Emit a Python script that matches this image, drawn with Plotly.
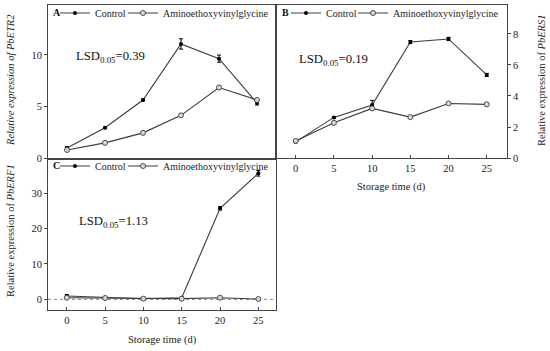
import plotly.graph_objects as go

days = [0, 5, 10, 15, 20, 25]
tick_vals_x = [0, 5, 10, 15, 20, 25]

# Panel A: PbETR2
a_control = [0.98, 2.93, 5.63, 11.07, 9.64, 5.34]
a_control_err = [0.1, 0.08, 0.1, 0.5, 0.35, 0.2]
a_avg = [0.78, 1.47, 2.44, 4.14, 6.84, 5.63]
a_avg_err = [0.05, 0.05, 0.05, 0.08, 0.1, 0.15]

# Panel B: PbERS1
b_control = [1.04, 2.62, 3.42, 7.48, 7.68, 5.36]
b_control_err = [0.05, 0.05, 0.3, 0.1, 0.1, 0.1]
b_avg = [1.10, 2.27, 3.20, 2.64, 3.52, 3.46]
b_avg_err = [0.05, 0.05, 0.1, 0.05, 0.05, 0.05]

# Panel C: PbERF1
c_control = [0.94, 0.56, 0.19, 0.47, 25.7, 35.6]
c_control_err = [0.4, 0.2, 0.1, 0.2, 0.5, 0.8]
c_avg = [0.47, 0.38, 0.20, 0.20, 0.47, 0.10]
c_avg_err = [0.1, 0.1, 0.05, 0.05, 0.1, 0.05]

series_names = ["Control", "Aminoethoxyvinylglycine"]
lsd_labels = ["LSD<sub>0.05</sub>=0.39", "LSD<sub>0.05</sub>=0.19", "LSD<sub>0.05</sub>=1.13"]

FONT = "Liberation Serif"
W, H = 550, 351
LINE = "#3a3a3a"
AX = "#444444"


def px(x):
    return x / W


def py(y):
    return 1 - y / H


fig = go.Figure()

panels = [
    ("x", "y", ("legend", "legend4"), a_control, a_control_err, a_avg, a_avg_err),
    ("x2", "y2", ("legend2", "legend5"), b_control, b_control_err, b_avg, b_avg_err),
    ("x3", "y3", ("legend3", "legend6"), c_control, c_control_err, c_avg, c_avg_err),
]

for xa, ya, lgs, ctl, ctl_e, avg, avg_e in panels:
    fig.add_trace(go.Scatter(
        x=days, y=ctl, name=series_names[0], mode="lines+markers",
        xaxis=xa, yaxis=ya, legend=lgs[0],
        line=dict(color=LINE, width=1.1),
        marker=dict(color="black", size=4, symbol="circle"),
        error_y=dict(type="data", array=ctl_e, color="black", thickness=1, width=2),
    ))
    fig.add_trace(go.Scatter(
        x=days, y=avg, name=series_names[1], mode="lines+markers",
        xaxis=xa, yaxis=ya, legend=lgs[1],
        line=dict(color=LINE, width=1.1),
        marker=dict(color="#d9d9d9", size=5, symbol="circle",
                    line=dict(color="#4a4a4a", width=1)),
        error_y=dict(type="data", array=avg_e, color="#555555", thickness=1, width=2),
    ))

axis_common = dict(showline=True, linecolor=AX, linewidth=1, mirror=True,
                   showgrid=False, zeroline=False, automargin=False,
                   tickfont=dict(family=FONT, size=10.5, color="#222"),
                   ticklen=3, tickcolor=AX, tickwidth=1)

fig.update_layout(
    template="none",
    width=W, height=H, autosize=False,
    margin=dict(l=0, r=0, t=0, b=0, pad=0, autoexpand=False),
    paper_bgcolor="white", plot_bgcolor="white",
    font=dict(family=FONT, size=10.5, color="#222"),
    showlegend=True,
    xaxis=dict(domain=[px(48), px(276)], range=[-2.5, 27.5], anchor="y",
               showticklabels=False, ticks="", **axis_common),
    yaxis=dict(domain=[py(158), py(5)], range=[0, 14.85], anchor="x",
               tickvals=[0, 5, 10], ticks="outside", **axis_common),
    xaxis2=dict(domain=[px(276), px(507)], range=[-2.58, 27.65], anchor="y2",
                tickvals=tick_vals_x, ticks="inside", **axis_common),
    yaxis2=dict(domain=[py(158), py(5)], range=[0, 9.87], anchor="x2", side="right",
                tickvals=[0, 2, 4, 6, 8], ticks="outside", **axis_common),
    xaxis3=dict(domain=[px(48), px(276)], range=[-2.45, 27.3], anchor="y3",
                tickvals=tick_vals_x, ticks="inside", **axis_common),
    yaxis3=dict(domain=[py(310), py(160)], range=[-3.0, 39.35], anchor="x3",
                tickvals=[0, 10, 20, 30], ticks="outside", **axis_common),
)

leg_common = dict(orientation="h", bgcolor="rgba(0,0,0,0)", xanchor="left", yanchor="middle",
                  font=dict(family=FONT, size=10, color="#222"), itemwidth=30,
                  borderwidth=0)
fig.update_layout(
    legend=dict(x=px(55), y=py(13), **leg_common),
    legend4=dict(x=px(123), y=py(13), **leg_common),
    legend2=dict(x=px(286), y=py(13), **leg_common),
    legend5=dict(x=px(353), y=py(13), **leg_common),
    legend3=dict(x=px(55), y=py(166), **leg_common),
    legend6=dict(x=px(123), y=py(166), **leg_common),
)

# reference line at zero in panel C
fig.add_shape(type="line", xref="x3 domain", yref="y3", x0=0, x1=1, y0=0, y1=0,
              line=dict(color="#888888", width=1, dash="dot"), layer="below")

annotations = [
    dict(text="<b>A</b>", x=px(51), y=py(13)),
    dict(text="<b>B</b>", x=px(280), y=py(13)),
    dict(text="<b>C</b>", x=px(51), y=py(166)),
]
for a in annotations:
    fig.add_annotation(xref="paper", yref="paper", xanchor="left", yanchor="middle",
                       showarrow=False, font=dict(family=FONT, size=10, color="#111"), **a)

for txt, xx, yy in zip(lsd_labels, [px(74), px(297), px(77)], [py(57), py(60), py(222)]):
    fig.add_annotation(text=txt, xref="paper", yref="paper", x=xx, y=yy,
                       xanchor="left", yanchor="middle", showarrow=False,
                       font=dict(family=FONT, size=12.7, color="#111"))

titles = [
    ("<i>Relative expression of PbETR2</i>", px(10), py(80), -90),
    ("Relative expression of <i>PbERF1</i>", px(10), py(231), -90),
    ("Relative expression of <i>PbERS1</i>", px(541), py(80), -90),
    ("Storage time (d)", px(162), py(340), 0),
    ("Storage time (d)", px(391), py(187), 0),
]
for txt, xx, yy, ang in titles:
    fig.add_annotation(text=txt, xref="paper", yref="paper", x=xx, y=yy,
                       xanchor="center", yanchor="middle", showarrow=False, textangle=ang,
                       font=dict(family=FONT, size=10.5, color="#222"))

fig.write_html("out.html", config={"displayModeBar": False},
               post_script="document.body.style.margin='0';")
